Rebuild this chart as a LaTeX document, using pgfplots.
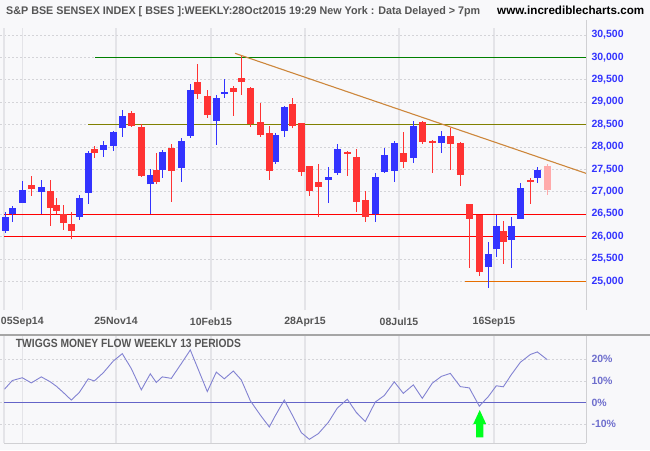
\documentclass[border=0pt]{standalone}
\usepackage{pgfplots}
\pgfplotsset{compat=1.18}
\usepackage{pgfplotstable}
\usepackage{graphicx}
\usepackage{fontspec}
\setmainfont{Liberation Sans}

\definecolor{bg}{RGB}{248,248,250}
\definecolor{hgrid}{RGB}{212,212,216}
\definecolor{vgrid}{RGB}{228,228,232}
\definecolor{cblue}{RGB}{51,51,255}
\definecolor{cred}{RGB}{255,51,51}
\definecolor{cpink}{RGB}{255,170,170}
\definecolor{tgray}{RGB}{85,85,85}
\definecolor{mfline}{RGB}{130,130,210}
\definecolor{zeroline}{RGB}{100,100,200}
\definecolor{lowlab}{RGB}{110,110,205}
\definecolor{lgreen}{RGB}{0,128,0}
\definecolor{lolive}{RGB}{128,128,0}
\definecolor{lred}{RGB}{255,0,0}
\definecolor{lorange}{RGB}{230,110,0}
\definecolor{ltrend}{RGB}{205,135,60}
\definecolor{agreen}{RGB}{0,255,30}

% weekly candles: x position (px), open, high, low, close
\pgfplotstableread{
x open high low close
5.3 26131 26548 26087 26436
12.3 26503 26682 26332 26637
22.3 26756 27240 26750 27039
41.3 27002 27262 26496 27106
79.3 26444 26927 26377 26860
88.3 26979 27909 26734 27865
103.3 27939 28125 27783 28043
113.3 28028 28356 27917 28333
122.3 28430 28824 28222 28691
150.3 27165 27508 26496 27374
162.3 27493 27932 27314 27887
181.3 27537 28200 27225 28133
190.3 28252 29405 28207 29271
216.3 28586 29159 28051 29092
224.3 29182 29516 29100 29226
275.3 27671 28311 27627 28266
284.3 28363 28914 28229 28891
328.3 27270 27552 26756 27329
337.3 27426 28066 27381 27954
375.3 26503 27418 26332 27329
384.3 27448 27976 27426 27820
394.3 27470 28133 27225 28088
413.3 27761 28579 27649 28467
441.3 28095 28356 27872 28244
488.3 25328 25878 24859 25610
496.3 25729 26488 25551 26235
511.3 25930 26436 25305 26235
520.3 26399 27195 26399 27084
537.3 27314 27552 27203 27485
}\upT

\pgfplotstableread{
x open high low close
31.3 27150 27351 26912 27069
50.3 27017 27262 26243 26645
56.3 26704 26860 26496 26578
63.3 26496 26704 26154 26310
71.3 26280 26548 25938 26131
94.3 27954 28021 27761 27872
131.3 28757 28802 28452 28475
141.3 28445 28505 27336 27359
156.3 27485 27865 27165 27225
171.3 27976 28066 26779 27470
197.3 29449 29851 29077 29189
207.3 29137 29271 28653 28720
233.3 29316 29360 28698 29234
241.3 29539 30037 29167 29457
250.3 29316 29330 28452 28505
260.3 28557 28981 28229 28274
269.3 28311 28467 27270 27470
292.3 28958 29092 28415 28460
301.3 28534 28540 27359 27448
309.3 27575 27580 26912 27024
318.3 27217 27619 26444 27113
347.3 27887 27909 27359 27850
356.3 27775 27954 26555 26779
365.3 26816 27017 26332 26444
403.3 27865 28333 27537 27671
422.3 28557 28579 28073 28118
432.3 28110 28155 27426 28095
450.3 28244 28430 27493 28073
460.3 28088 28110 27136 27381
469.3 26726 26730 25305 26399
479.3 26488 26490 25127 25216
503.3 26124 26347 25395 25886
530.3 27247 27307 26734 27225
}\downT

\pgfplotstableread{
x open high low close
547.3 27575 27619 26935 27046
}\curT

\pgfplotstableread{
x mf
4.5 6.2
12.3 10.2
22.3 11.5
31.3 9.1
41.3 11.9
50.3 9.6
56.3 7.6
63.3 4.7
71.3 1.2
79.3 4.7
88.3 11.0
94.3 10.0
103.3 13.8
113.3 19.2
122.3 22.6
131.3 15.7
141.3 5.9
150.3 13.3
156.3 9.3
162.3 11.9
171.3 11.2
181.3 18.0
190.3 24.3
197.3 16.4
207.3 5.1
216.3 14.1
224.3 11.0
233.3 14.6
241.3 10.5
250.3 0.9
260.3 -5.7
269.3 -11.2
275.3 -6.0
284.3 1.2
292.3 -5.7
301.3 -13.8
309.3 -16.9
318.3 -14.3
328.3 -9.1
337.3 -2.5
347.3 1.6
356.3 -4.5
365.3 -8.7
375.3 0.3
384.3 3.3
394.3 9.6
403.3 4.3
413.3 8.2
422.3 2.0
432.3 9.0
441.3 12.1
450.3 13.5
460.3 7.4
469.3 6.8
479.3 -1.6
488.3 2.8
496.3 7.8
503.3 7.3
511.3 12.9
520.3 18.6
530.3 22.2
537.3 23.4
547.3 19.8
}\mfT

\pgfplotsset{
  wick/.style={draw=none, mark=none, forget plot,
    error bars/.cd, y dir=plus, y explicit, error mark=none,
    error bar style={draw=#1, line width=1pt, solid}},
  body/.style={draw=none, mark=none, forget plot,
    error bars/.cd, y dir=plus, y explicit, error mark=none,
    error bar style={draw=#1, line width=6.5pt, solid}},
}

\begin{document}
\begin{tikzpicture}[x=1pt,y=1pt]
\useasboundingbox (0,0) rectangle (650,450);
\fill[bg] (0,0) rectangle (650,450);

% ---------- main price panel ----------
\begin{axis}[
  at={(0pt,140pt)}, anchor=south west,
  width=586pt, height=282pt, scale only axis,
  xmin=0, xmax=586, ymin=24360, ymax=30654,
  axis line style={draw=none}, tick style={draw=none},
  xtick={22.3,116,211,305,399,494},
  xticklabels={05Sep14,25Nov14,10Feb15,28Apr15,08Jul15,16Sep15},
  extra x ticks={4}, extra x tick labels={},
  extra x tick style={grid=major},
  ytick={25000,25500,26000,26500,27000,27500,28000,28500,29000,29500,30000,30500},
  yticklabels={{25,000},{25,500},{26,000},{26,500},{27,000},{27,500},{28,000},{28,500},{29,000},{29,500},{30,000},{30,500}},
  scaled y ticks=false,
  yticklabel pos=right,
  xmajorgrids, ymajorgrids,
  x grid style={draw=vgrid, line width=1.2pt},
  y grid style={draw=hgrid, line width=0.7pt, dash pattern=on 2pt off 2pt},
  xticklabel style={font=\bfseries\fontsize{10.5}{12}\selectfont, text=tgray, yshift=-4pt},
  yticklabel style={font=\bfseries\fontsize{10.5}{12}\selectfont, text=cblue, anchor=west, xshift=2pt},
]
\addplot[draw=lgreen, line width=1pt, forget plot] coordinates {(95,30000)(586,30000)};
\addplot[draw=lolive, line width=1pt, forget plot] coordinates {(88,28500)(586,28500)};
\addplot[draw=lred, line width=1pt, forget plot] coordinates {(4,26500)(586,26500)};
\addplot[draw=lred, line width=1pt, forget plot] coordinates {(4,26000)(586,26000)};
\addplot[draw=lorange, line width=1pt, forget plot] coordinates {(465,25000)(586,25000)};

\addplot[wick=cblue] table[x=x, y=low, y error expr=\thisrow{high}-\thisrow{low}] {\upT};
\addplot[body=cblue] table[x=x, y=open, y error expr={max(\thisrow{close}-\thisrow{open},45)}] {\upT};
\addplot[wick=cred] table[x=x, y=low, y error expr=\thisrow{high}-\thisrow{low}] {\downT};
\addplot[body=cred] table[x=x, y=close, y error expr={max(\thisrow{open}-\thisrow{close},45)}] {\downT};
\addplot[wick=cpink] table[x=x, y=low, y error expr=\thisrow{high}-\thisrow{low}] {\curT};
\addplot[body=cpink] table[x=x, y=close, y error expr={max(\thisrow{open}-\thisrow{close},45)}] {\curT};

\addplot[draw=ltrend, line width=1.1pt, forget plot] coordinates {(235,30089)(586,27410)};
\end{axis}

% ---------- money flow panel ----------
\begin{axis}[
  at={(0pt,7pt)}, anchor=south west,
  width=586pt, height=108pt, scale only axis,
  xmin=0, xmax=586, ymin=-18.6, ymax=31.2,
  axis line style={draw=none}, tick style={draw=none},
  xtick={22.3,116,211,305,399,494}, xticklabels={},
  extra x ticks={4}, extra x tick labels={},
  extra x tick style={grid=major},
  ytick={-10,0,10,20},
  yticklabels={-10\%,0\%,10\%,20\%},
  yticklabel pos=right,
  xmajorgrids, ymajorgrids,
  x grid style={draw=vgrid, line width=1.2pt},
  y grid style={draw=hgrid, line width=0.7pt, dash pattern=on 2pt off 2pt},
  yticklabel style={font=\bfseries\fontsize{10.5}{12}\selectfont, text=lowlab, anchor=west, xshift=2pt},
]
\addplot[draw=zeroline, line width=1pt, forget plot] coordinates {(4,0)(586,0)};
\addplot[draw=mfline, line width=0.9pt, mark=none] table[x=x, y=mf] {\mfT};
\fill[agreen] (axis cs:479.7,-3.4) -- (axis cs:486.2,-9.9) -- (axis cs:483.3,-9.9)
  -- (axis cs:483.3,-16.0) -- (axis cs:476.1,-16.0) -- (axis cs:476.1,-9.9)
  -- (axis cs:473.2,-9.9) -- cycle;
\end{axis}

% panel borders
\draw[color=vgrid!80!gray, line width=1pt] (586,140) -- (586,430);
\draw[color=vgrid!80!gray, line width=1pt] (586,7) -- (586,115) (4,7) -- (586,7);
\draw[color=gray!70, line width=1.5pt] (0,115) -- (650,115);

% titles
\node[anchor=base west, inner sep=0, text=tgray] at (6,435.5)
  {\resizebox{474pt}{8pt}{\bfseries S\&P BSE SENSEX INDEX [ BSES ]:WEEKLY:28Oct2015 19:29 New York : Data Delayed > 7pm}};
\node[anchor=base west, inner sep=0, text=black] at (497,435.5)
  {\resizebox{147pt}{8.5pt}{\bfseries www.incrediblecharts.com}};
\node[anchor=base west, inner sep=0, text=tgray] at (15.7,102.7)
  {\resizebox{225pt}{8.3pt}{\bfseries TWIGGS MONEY FLOW WEEKLY 13 PERIODS}};
\end{tikzpicture}
\end{document}
